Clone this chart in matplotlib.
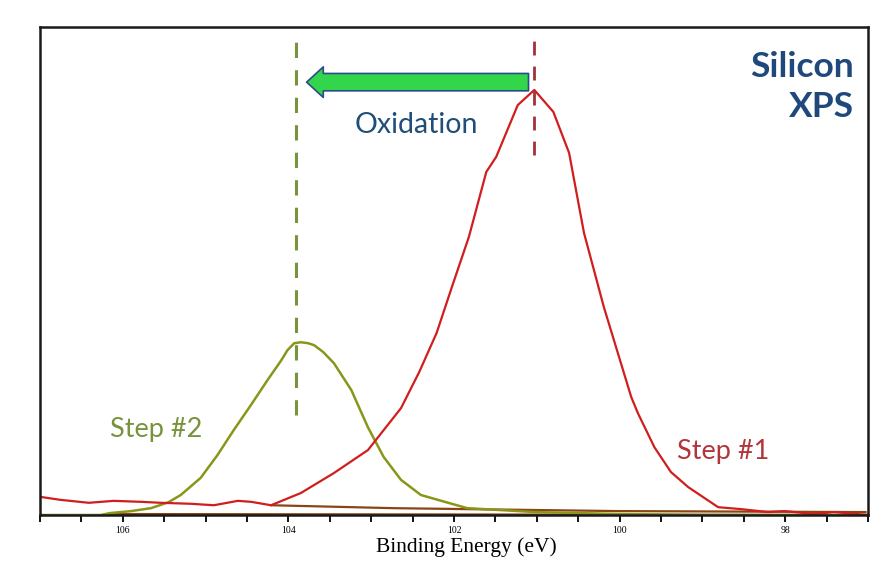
import matplotlib
matplotlib.use("Agg")
import matplotlib.pyplot as plt
import numpy as np

# Step #1 spectrum (binding energy in eV, intensity in arb. units)
step1_be = [106.99, 106.75, 106.41, 106.11, 105.78, 105.54, 105.18, 104.90, 104.61, 104.45,
            104.21, 103.85, 103.45, 103.04, 102.97, 102.64, 102.42, 102.21, 102.01, 101.82,
            101.61, 101.49, 101.23, 101.03, 100.80, 100.61, 100.43, 100.19, 99.86, 99.78,
            99.58, 99.38, 99.17, 98.81, 98.53, 98.21, 98.01, 97.65, 97.41, 97.00]
step1_int = [3.7, 3.1, 2.5, 2.9, 2.7, 2.5, 2.3, 2.0, 2.9, 2.7,
             2.0, 4.5, 8.6, 13.3, 14.8, 21.9, 29.3, 37.3, 47.5, 57.0,
             70.3, 73.4, 84.0, 87.1, 82.6, 74.2, 57.8, 42.6, 24.2, 20.9,
             13.9, 8.8, 5.7, 1.6, 1.2, 0.6, 0.8, 0.2, 0.6, 0.0]

# Step #2 spectrum
step2_be = [106.99, 106.27, 106.15, 105.90, 105.66, 105.45, 105.30, 105.06, 104.86, 104.66,
            104.45, 104.25, 104.09, 104.01, 103.93, 103.85, 103.76, 103.69, 103.58, 103.45,
            103.24, 103.04, 102.85, 102.64, 102.40, 102.07, 101.84, 101.02, 100.01, 99.02,
            97.00]
step2_int = [0.0, 0.0, 0.4, 0.8, 1.4, 2.6, 4.1, 7.6, 12.2, 17.4,
             22.6, 27.7, 31.6, 33.8, 35.2, 35.4, 35.2, 34.8, 33.4, 31.1,
             25.6, 18.0, 11.9, 7.2, 4.1, 2.5, 1.4, 0.6, 0.2, 0.0,
             0.0]

# background lines
bg1_be = [104.21, 102.73, 100.01, 97.03]
bg1_int = [2.0, 1.4, 0.8, 0.6]
bg2_be = [106.18, 97.0]
bg2_int = [0.2, 0.0]

# peak markers and arrow
peak1_be, peak1_span = 101.03, (73.8, 97.7)
peak2_be, peak2_span = 103.91, (20.5, 97.7)
arrow_start, arrow_end, arrow_y = 101.1, 103.78, 88.7

ticks = np.arange(97.0, 107.01, 0.5)
tick_labels = [str(int(t)) if t % 2 == 0 else '' for t in ticks]

RED = '#d01e1e'
OLIVE = '#8a961a'
BROWN = '#8b4513'

fig = plt.figure(figsize=(8.81, 5.65), dpi=100)
ax = fig.add_axes([40 / 881, 1 - 515 / 565, 828 / 881, 488 / 565])

ax.plot(bg2_be, bg2_int, color=BROWN, lw=1.6)
ax.plot(bg1_be, bg1_int, color=BROWN, lw=1.6)
ax.plot(step2_be, step2_int, color=OLIVE, lw=1.8)
ax.plot(step1_be, step1_int, color=RED, lw=1.6)

ax.vlines(peak2_be, *peak2_span, colors='#77933c', linestyles=(0, (5, 4)), lw=2.2)
ax.vlines(peak1_be, *peak1_span, colors='#a4303c', linestyles=(0, (5, 4)), lw=2.0)

ax.annotate('', xy=(arrow_end, arrow_y), xytext=(arrow_start, arrow_y),
            arrowprops=dict(arrowstyle='simple,head_width=2.2,head_length=1.2,tail_width=1.25',
                            fc='#33d64a', ec='#2b4c8c', lw=1.2, shrinkA=0, shrinkB=0))

ax.text(102.45, 80.0, 'Oxidation', color='#1f4e79', fontsize=20.5, family='Lato',
        ha='center', va='center')
ax.text(97.17, 95.0, 'Silicon\nXPS', color='#1f497d', fontsize=25.5, family='Lato',
        weight='bold', ha='right', va='top', linespacing=1.3)
ax.text(105.6, 17.6, 'Step #2', color='#77933c', fontsize=19.5, family='Lato',
        ha='center', va='center')
ax.text(98.75, 13.0, 'Step #1', color='#b0363c', fontsize=19.5, family='Lato',
        ha='center', va='center')

ax.set_xlim(107, 97)
ax.set_ylim(0, 100)
ax.set_yticks([])
ax.set_xticks(ticks)
ax.set_xticklabels(tick_labels, fontsize=7, family='Liberation Serif')
ax.tick_params(axis='x', direction='out', length=5, width=1.3, pad=3)
ax.set_xlabel('Binding Energy (eV)', fontsize=15.5, family='Liberation Serif')
ax.xaxis.set_label_coords(0.515, -0.045)
for s in ax.spines.values():
    s.set_linewidth(1.8)
    s.set_color('#1a1a1a')

fig.savefig('out.png', dpi=100)
